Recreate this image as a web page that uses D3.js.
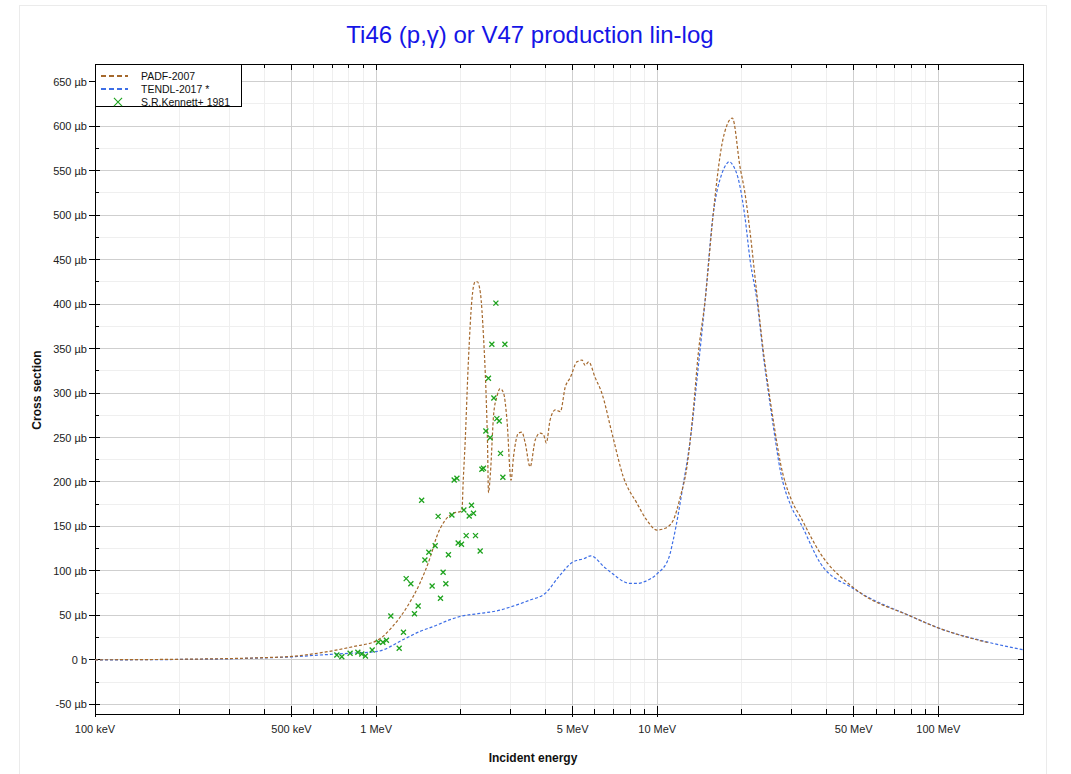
<!DOCTYPE html>
<html>
<head>
<meta charset="utf-8">
<script src="https://cdn.jsdelivr.net/npm/d3@7"></script>
<style>
  body { margin: 0; background: #fff; }
  svg { display: block; font-family: Arial, "Liberation Sans", sans-serif; }
</style>
</head>
<body>
<svg id="chart" width="1071" height="774"></svg>
<script>
// ---- Data (energy in MeV, cross section in µb) ----
const padfE = [0.1,0.2,0.3,0.4,0.5,0.632,0.828,1.01,1.14,1.29,1.43,1.56,1.64,1.76,1.88,2.0,2.02,2.04,2.07,2.13,2.19,2.25,2.29,2.35,2.41,2.46,2.49,2.51,2.55,2.62,2.69,2.76,2.84,2.92,3.02,3.08,3.21,3.30,3.39,3.53,3.68,3.83,3.94,4.03,4.16,4.34,4.52,4.71,4.90,5.18,5.40,5.54,5.70,6.02,6.35,6.90,7.57,8.47,9.19,9.98,10.67,11.4,12.07,12.75,13.4,14.0,14.8,15.8,17.0,17.7,18.5,19.7,20.5,21.4,22.6,24,25,26,27.4,30,32.3,38,50,80,100,150];
const padfV = [0.2,0.8,1.6,2.6,4,8,15,22,37,60,86,116,138,157,165,167,168,200,240,337,404,425,425,412,363,300,244,188,210,277,296,305,300,270,202,228,255,256,244,217,247,255,253,244,270,281,279,307,317,335,337,331,335,317,300,255,206,176,157,146,148,157,183,217,277,345,404,500,580,601,609,554,525,480,412,340,300,265,222,180,161,120,81,49,36,19.5];

const tendlE = [0.1,0.2,0.3,0.4,0.5,0.632,0.8,1.01,1.25,1.43,1.64,1.82,2.02,2.3,2.76,3.0,3.5,4.0,4.5,5.0,5.5,5.8,6.5,7.0,7.5,8.0,8.5,9.0,10,11,11.4,12.4,13.1,14.0,14.8,15.8,17.0,17.7,18.0,18.5,19.7,20.5,21.4,22.6,24,25,26,27.4,30,32.3,38,50,80,100,150,200];
const tendlV = [0.1,0.6,1.3,2.4,3.5,5.6,7.5,9.6,23,32,39,45,49.4,52,56,59.5,67,75,95,110,114,117,104,96,89,86,86,88,97,115,135,199,247,330,404,500,547,558,560,557,532,498,449,405,335,295,258,213,172,154,109,80,49,36,20,11.5];

const expE = [0.725,0.755,0.808,0.861,0.889,0.916,0.968,1.019,1.057,1.088,1.128,1.208,1.251,1.279,1.329,1.369,1.411,1.452,1.491,1.540,1.582,1.622,1.662,1.694,1.731,1.770,1.808,1.860,1.895,1.938,1.958,2.012,2.052,2.091,2.143,2.184,2.220,2.257,2.345,2.378,2.409,2.457,2.509,2.545,2.580,2.623,2.667,2.688,2.740,2.769,2.824,2.871];
const expV = [5.6,3.7,7.5,8.6,6.7,4.5,11.2,19.9,19.9,22.1,49.4,13.1,31.1,91.4,85.7,52,60.7,179.5,112.4,121,83.1,128.4,161.4,69.3,98.5,85.7,118.3,163,202.2,204.2,131.5,130,168.5,139.7,161.8,173.8,164.8,139.7,122.5,214.3,215.4,257.3,316.5,249.8,354.7,294.4,401,271.2,268.5,232.2,205.3,354.7];

const xLabelTicks = [0.1,0.5,1,5,10,50,100];
const xLabelText = ["100 keV","500 keV","1 MeV","5 MeV","10 MeV","50 MeV","100 MeV"];
const yTicks = [-50,0,50,100,150,200,250,300,350,400,450,500,550,600,650];
const seriesNames = ["PADF-2007","TENDL-2017 *","S.R.Kennett+ 1981"];
const colors = {padf:"#a5682c", tendl:"#3d6ee6", exp:"#1ea31e"};

// ---- Layout ----
const svg = d3.select("#chart");
const L = 95, R = 1023, T = 64, B = 714;
const x = d3.scaleLog().domain([0.1, 200]).range([L, R]);
const y = d3.scaleLinear().domain([-60.7, 669.7]).range([B, T]);

// outer frame
svg.append("rect").attr("x",19.5).attr("y",5.5).attr("width",1027).attr("height",790)
  .attr("fill","none").attr("stroke","#ebebeb");

// minor x values
const xMinor = [];
[0.1,1,10,100].forEach(d => { for (let k=2;k<=9;k++){ const v=d*k; if (v<200 && !xLabelTicks.includes(+v.toFixed(6))) xMinor.push(v);} });
const yMinor = d3.range(-50, 670, 25).filter(v => v % 50 !== 0);

const grid = svg.append("g");
xMinor.forEach(v => grid.append("line").attr("x1",x(v)).attr("x2",x(v)).attr("y1",T).attr("y2",B)
  .attr("stroke","#efefef").attr("stroke-width",1).attr("shape-rendering","crispEdges"));
yMinor.forEach(v => grid.append("line").attr("x1",L).attr("x2",R).attr("y1",y(v)).attr("y2",y(v))
  .attr("stroke","#efefef").attr("stroke-width",1).attr("shape-rendering","crispEdges"));
xLabelTicks.slice(1).forEach(v => grid.append("line").attr("x1",x(v)).attr("x2",x(v)).attr("y1",T).attr("y2",B)
  .attr("stroke","#cfcfcf").attr("stroke-width",1).attr("shape-rendering","crispEdges"));
yTicks.forEach(v => grid.append("line").attr("x1",L).attr("x2",R).attr("y1",y(v)).attr("y2",y(v))
  .attr("stroke","#cfcfcf").attr("stroke-width",1).attr("shape-rendering","crispEdges"));

// frame
svg.append("rect").attr("x",L).attr("y",T).attr("width",R-L).attr("height",B-T)
  .attr("fill","none").attr("stroke","#000").attr("stroke-width",1).attr("shape-rendering","crispEdges");

// ticks
const tk = svg.append("g").attr("stroke","#000").attr("stroke-width",1).attr("shape-rendering","crispEdges");
xLabelTicks.forEach(v => { tk.append("line").attr("x1",x(v)).attr("x2",x(v)).attr("y1",B-8).attr("y2",B+3);
  tk.append("line").attr("x1",x(v)).attr("x2",x(v)).attr("y1",T).attr("y2",T+6); });
xMinor.forEach(v => { tk.append("line").attr("x1",x(v)).attr("x2",x(v)).attr("y1",B-5).attr("y2",B);
  tk.append("line").attr("x1",x(v)).attr("x2",x(v)).attr("y1",T).attr("y2",T+4); });
yTicks.forEach(v => { tk.append("line").attr("x1",L-6).attr("x2",L+5).attr("y1",y(v)).attr("y2",y(v));
  tk.append("line").attr("x1",R-5).attr("x2",R).attr("y1",y(v)).attr("y2",y(v)); });
yMinor.forEach(v => { tk.append("line").attr("x1",L).attr("x2",L+4).attr("y1",y(v)).attr("y2",y(v));
  tk.append("line").attr("x1",R-4).attr("x2",R).attr("y1",y(v)).attr("y2",y(v)); });

// tick labels
xLabelTicks.forEach((v,i) => svg.append("text").attr("x",x(v)).attr("y",B+19)
  .attr("text-anchor","middle").attr("font-size",11).attr("fill","#222").text(xLabelText[i]));
yTicks.forEach(v => svg.append("text").attr("x",L-8).attr("y",y(v)+4)
  .attr("text-anchor","end").attr("font-size",11).attr("fill","#222")
  .text(v === 0 ? "0 b" : v + " µb"));

// axis titles
svg.append("text").attr("x",533).attr("y",762).attr("text-anchor","middle")
  .attr("font-size",12).attr("font-weight","bold").attr("fill","#111").text("Incident energy");
svg.append("text").attr("transform","translate(41,390) rotate(-90)").attr("text-anchor","middle")
  .attr("font-size",12).attr("font-weight","bold").attr("fill","#111").text("Cross section");

// title
svg.append("text").attr("x",530).attr("y",43).attr("text-anchor","middle")
  .attr("font-size",24).attr("fill","#1515e6").text("Ti46 (p,γ) or V47 production lin-log");

// curves
svg.append("clipPath").attr("id","clip").append("rect").attr("x",L).attr("y",T).attr("width",R-L).attr("height",B-T);
const line = d3.line().x(d => x(d[0])).y(d => y(d[1])).curve(d3.curveMonotoneX);
const pd = padfE.map((e,i)=>[e,padfV[i]]);
const td = tendlE.map((e,i)=>[e,tendlV[i]]);
const gc = svg.append("g").attr("clip-path","url(#clip)");
gc.append("path").datum(td).attr("d",line).attr("fill","none").attr("stroke",colors.tendl)
  .attr("stroke-width",1.2).attr("stroke-dasharray","3,2");
gc.append("path").datum(pd).attr("d",line).attr("fill","none").attr("stroke",colors.padf)
  .attr("stroke-width",1.2).attr("stroke-dasharray","3,2");

// experimental markers
const ed = expE.map((e,i)=>[e,expV[i]]);
const xSym = d3.symbol().type(d3.symbolX).size(18);
gc.selectAll("path.m").data(ed).enter().append("path").attr("class","m")
  .attr("transform", d => `translate(${x(d[0])},${y(d[1])})`)
  .attr("d", xSym).attr("fill","none").attr("stroke",colors.exp).attr("stroke-width",1.3);

// legend
const lg = svg.append("g");
lg.append("rect").attr("x",L).attr("y",T).attr("width",146).attr("height",42)
  .attr("fill","#fff").attr("stroke","#000").attr("stroke-width",1).attr("shape-rendering","crispEdges");
const rows = [76, 89, 102];
lg.append("line").attr("x1",101).attr("x2",128).attr("y1",rows[0]).attr("y2",rows[0])
  .attr("stroke",colors.padf).attr("stroke-width",2).attr("stroke-dasharray","5,3");
lg.append("line").attr("x1",101).attr("x2",128).attr("y1",rows[1]).attr("y2",rows[1])
  .attr("stroke",colors.tendl).attr("stroke-width",2).attr("stroke-dasharray","5,3");
lg.append("path").attr("transform",`translate(118,${rows[2]})`).attr("d",d3.symbol().type(d3.symbolX).size(45))
  .attr("fill","none").attr("stroke",colors.exp).attr("stroke-width",1.1);
seriesNames.forEach((s,i) => lg.append("text").attr("x",141).attr("y",rows[i]+4)
  .attr("font-size",10.5).attr("fill","#111").text(s));
</script>
</body>
</html>
